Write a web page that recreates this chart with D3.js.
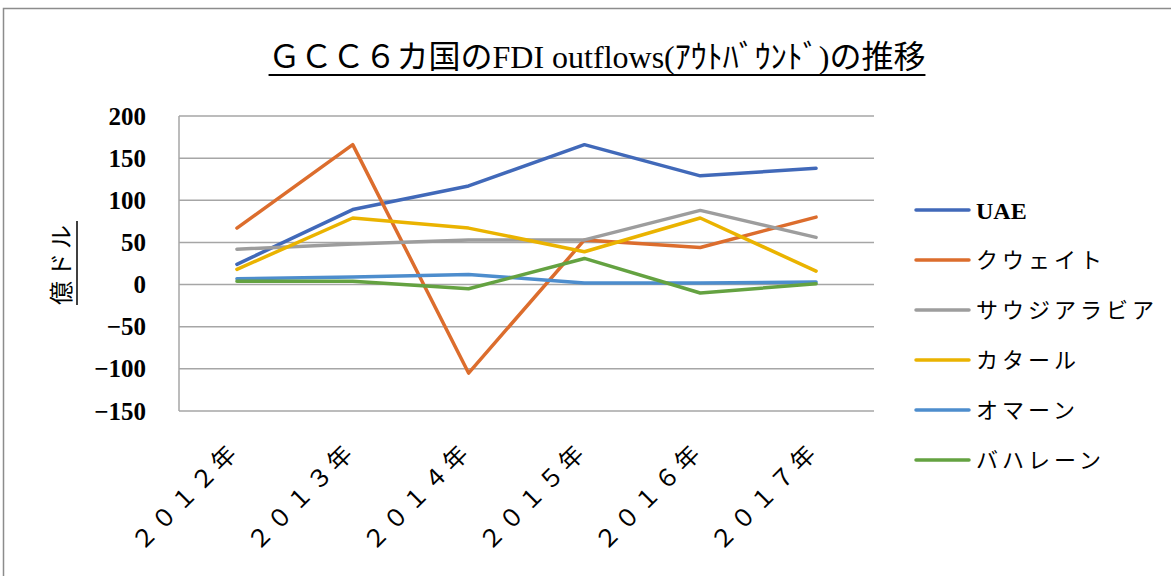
<!DOCTYPE html>
<html>
<head>
<meta charset="utf-8">
<script src="https://cdnjs.cloudflare.com/ajax/libs/d3/7.8.5/d3.min.js"></script>
<style>
  body { margin: 0; background: #fff; }
  svg { display: block; }
  .jp { font-family: "Noto Sans CJK JP", sans-serif; }
  .serif { font-family: "Liberation Serif", "Noto Sans CJK JP", serif; }
</style>
</head>
<body>
<div id="chart-container"></div>
<script>

var years = ["２０１２年", "２０１３年", "２０１４年", "２０１５年", "２０１６年", "２０１７年"];
var seriesNames = ["UAE", "クウェイト", "サウジアラビア", "カタール", "オマーン", "バハレーン"];
var seriesColors = ["#4169b9", "#dc6d2d", "#9d9d9d", "#eab300", "#4d8dcd", "#64a241"];

var uae = [24, 89, 117, 166, 129, 138];
var kuwait = [67, 166, -105, 53, 44, 80];
var saudi = [42, 48, 53, 53, 88, 56];
var qatar = [18, 79, 67, 39, 79, 16];
var oman = [7, 9, 12, 2, 2, 3];
var bahrain = [4, 4, -5, 31, -10, 1];

var yTicks = [200, 150, 100, 50, 0, -50, -100, -150];

var titleText = "ＧＣＣ６カ国のFDI outflows(ｱｳﾄﾊﾞｳﾝﾄﾞ)の推移";
var yTitle = "億ドル";

var allSeries = [uae, kuwait, saudi, qatar, oman, bahrain];

var width = 1171, height = 576;
var margin = {top: 116, left: 179, right: 297, bottom: 165};
var plotW = width - margin.left - margin.right,
    plotH = height - margin.top - margin.bottom;

var svg = d3.select("#chart-container")
    .append("svg")
    .attr("width", width)
    .attr("height", height);

// outer frame of the chart area
svg.append("rect")
    .attr("x", 3.5)
    .attr("y", 8.5)
    .attr("width", 1300)
    .attr("height", 700)
    .attr("fill", "none")
    .attr("stroke", "#8c8c8c")
    .attr("stroke-width", 1.5);

var x = d3.scaleBand()
    .domain(years)
    .range([0, plotW]);

var y = d3.scaleLinear()
    .domain([-150, 200])
    .range([plotH, 0]);

var main = svg.append("g")
    .attr("transform", "translate(" + margin.left + "," + margin.top + ")");

// gridlines
main.append("g")
    .selectAll("line")
    .data(yTicks)
    .enter().append("line")
    .attr("x1", 0)
    .attr("x2", plotW)
    .attr("y1", function(d) { return y(d); })
    .attr("y2", function(d) { return y(d); })
    .attr("stroke", "#a6a6a6")
    .attr("stroke-width", 1.5);

// left axis line
main.append("line")
    .attr("x1", 0).attr("x2", 0)
    .attr("y1", 0).attr("y2", plotH)
    .attr("stroke", "#a6a6a6")
    .attr("stroke-width", 1.5);

// y axis labels
var yAxis = d3.axisLeft(y)
    .tickValues(yTicks)
    .tickSize(0)
    .tickPadding(33);

var yAxisG = main.append("g").call(yAxis);
yAxisG.select(".domain").remove();
yAxisG.selectAll("text")
    .attr("class", "serif")
    .attr("font-size", 25)
    .attr("font-weight", "bold")
    .attr("fill", "#000");

// x axis labels, rotated
main.append("g")
    .selectAll("text")
    .data(years)
    .enter().append("text")
    .attr("class", "jp")
    .attr("transform", function(d) {
        return "translate(" + (x(d) + x.bandwidth() / 2 + 4) + "," + (plotH + 42) + ") rotate(-45)";
    })
    .attr("text-anchor", "end")
    .attr("font-size", 24)
    .attr("letter-spacing", 4)
    .attr("fill", "#000")
    .text(function(d) { return d; });

// series lines
var line = d3.line()
    .x(function(d, i) { return x(years[i]) + x.bandwidth() / 2; })
    .y(function(d) { return y(d); });

main.append("g")
    .selectAll("path")
    .data(allSeries)
    .enter().append("path")
    .attr("d", function(d) { return line(d); })
    .attr("fill", "none")
    .attr("stroke", function(d, i) { return seriesColors[i]; })
    .attr("stroke-width", 3.5)
    .attr("stroke-linejoin", "round")
    .attr("stroke-linecap", "round");

// legend
var legend = svg.append("g")
    .attr("transform", "translate(916,210)")
    .selectAll("g")
    .data(seriesNames)
    .enter().append("g")
    .attr("transform", function(d, i) { return "translate(0," + (i * 50) + ")"; });

legend.append("line")
    .attr("x1", 0).attr("x2", 53)
    .attr("y1", 0).attr("y2", 0)
    .attr("stroke", function(d, i) { return seriesColors[i]; })
    .attr("stroke-width", 3.5)
    .attr("stroke-linecap", "round");

legend.append("text")
    .attr("x", 60)
    .attr("y", 0)
    .attr("dy", "0.36em")
    .attr("class", function(d, i) { return i === 0 ? "serif" : "jp"; })
    .attr("font-size", function(d, i) { return i === 0 ? 24 : 22; })
    .attr("font-weight", function(d, i) { return i === 0 ? "bold" : "normal"; })
    .attr("letter-spacing", function(d, i) { return i === 0 ? 0 : 4; })
    .attr("fill", "#000")
    .text(function(d) { return d; });

// title with underline
var title = svg.append("text")
    .attr("class", "serif")
    .attr("x", 597)
    .attr("y", 68)
    .attr("text-anchor", "middle")
    .attr("font-size", 32)
    .attr("fill", "#000")
    .text(titleText);

var tb = title.node().getBBox();
svg.append("line")
    .attr("x1", tb.x).attr("x2", tb.x + tb.width)
    .attr("y1", 75).attr("y2", 75)
    .attr("stroke", "#000")
    .attr("stroke-width", 2);

// y axis title, rotated with underline
var yt = svg.append("text")
    .attr("class", "jp")
    .attr("transform", "translate(70,263) rotate(-90)")
    .attr("text-anchor", "middle")
    .attr("font-size", 24)
    .attr("letter-spacing", 4)
    .attr("fill", "#000")
    .text(yTitle);

var yb = yt.node().getBBox();
svg.append("line")
    .attr("x1", 77).attr("x2", 77)
    .attr("y1", 263 - yb.width / 2).attr("y2", 263 + yb.width / 2)
    .attr("stroke", "#000")
    .attr("stroke-width", 1.5);

</script>
</body>
</html>
